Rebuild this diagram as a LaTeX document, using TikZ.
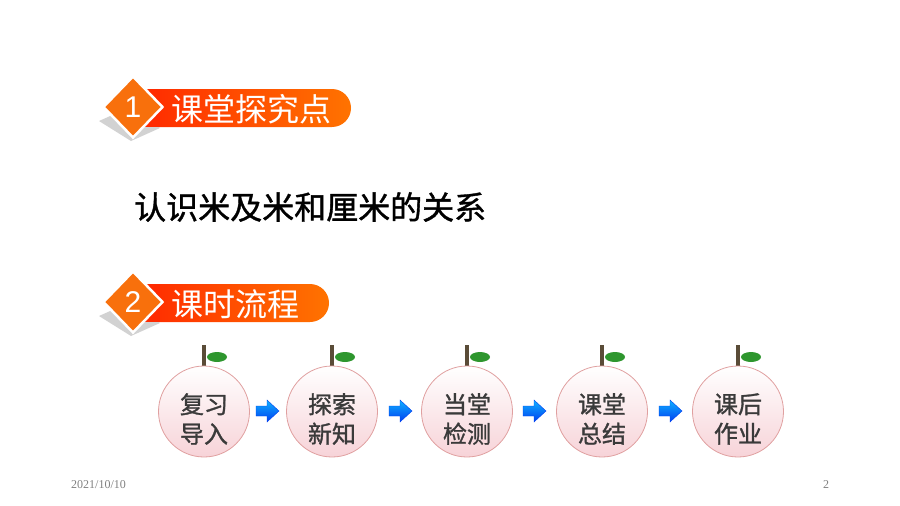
\documentclass[tikz,border=0pt]{standalone}
\usepackage{fontspec}
\newfontfamily\cjk{Noto Sans CJK SC}
\newfontfamily\cjkb[FakeBold=1.2]{Noto Sans CJK SC}
\newfontfamily\numfont{Liberation Sans}
\setmainfont{Liberation Serif}
\usetikzlibrary{shapes.geometric}
\definecolor{barred}{HTML}{FF2A00}
\definecolor{barorange}{HTML}{FF7300}
\definecolor{diaorange}{HTML}{F8700C}
\definecolor{pinkedge}{HTML}{E0A0A0}
\definecolor{pinkfill}{HTML}{F7D3D8}
\definecolor{stemcol}{HTML}{5A4C38}
\definecolor{leafcol}{HTML}{2E962E}
\definecolor{txtgray}{HTML}{3A3A3A}
\definecolor{arrdark}{HTML}{0040F0}
\definecolor{arrlight}{HTML}{10B0FF}
\tikzset{
  diam/.style={diamond, draw=white, line width=2.5pt, fill=diaorange, minimum width=60pt, minimum height=62pt, inner sep=0pt, text=white, font=\numfont\fontsize{30}{30}\selectfont},
  bartext/.style={text=white, font=\cjk\fontsize{32}{32}\selectfont, inner sep=0pt, anchor=west},
  peach/.style={circle, draw=pinkedge, line width=0.8pt, top color=white, bottom color=pinkfill, minimum size=91pt, inner sep=0pt},
  peachtext/.style={align=center, text=txtgray, inner sep=0pt, font=\cjkb\fontsize{24}{29.5}\selectfont},
  stem/.style={draw=stemcol, line width=3.5pt},
  leaf/.style={fill=leafcol},
  blockarrow/.style={draw=arrdark, line width=0.4pt, top color=arrlight, bottom color=arrdark},
  foot/.style={text=gray, font=\fontsize{12}{12}\selectfont, inner sep=0pt}
}
\begin{document}
\begin{tikzpicture}[x=1pt,y=-1pt]
\useasboundingbox (0,0) rectangle (900,506);
% ---- banner 1
\fill[gray!35] (99,121) -- (128,108) -- (160,128) -- (131,141) -- cycle;
\shade[left color=barred, right color=barorange, rounded corners=19pt] (140,89) -- (351,89) -- (351,127) -- (140,127) [sharp corners] -- cycle;
\fill[barred] (140,89) rectangle (160,127);
\node[diam] (d1) at (133,107) {1};
\node[bartext] (t1) at (171,109) {课堂探究点};
% ---- main text
\node[inner sep=0pt, anchor=west, font=\cjkb\fontsize{32}{32}\selectfont] (main) at (134,207) {认识米及米和厘米的关系};
% ---- banner 2
\fill[gray!35] (99,316) -- (128,303) -- (160,323) -- (131,336) -- cycle;
\shade[left color=barred, right color=barorange, rounded corners=19pt] (140,284) -- (329,284) -- (329,322) -- (140,322) [sharp corners] -- cycle;
\fill[barred] (140,284) rectangle (160,322);
\node[diam] (d2) at (133,302) {2};
\node[bartext] (t2) at (171,304) {课时流程};
% ---- peaches
\foreach \n/\x/\a/\b in {1/204/复习/导入, 2/332/探索/新知, 3/467/当堂/检测, 4/602/课堂/总结, 5/738/课后/作业} {
  \draw[stem] (\x,345) -- (\x,367);
  \fill[leaf] (\x+13,357) ellipse[x radius=10pt, y radius=5pt];
  \node[peach] (p\n) at (\x,411.5) {};
  \node[peachtext] (q\n) at (\x,419) {\a\\\b};
}
% ---- arrows
\foreach \s in {256,389,523,659} {
  \draw[blockarrow] (\s,406) -- (\s+11,406) -- (\s+11,400) -- (\s+23,411) -- (\s+11,422) -- (\s+11,416) -- (\s,416) -- cycle;
}
% ---- footer
\node[foot, anchor=west] (date) at (71,485) {2021/10/10};
\node[foot] (pg) at (826,485) {2};
\end{tikzpicture}
\end{document}
